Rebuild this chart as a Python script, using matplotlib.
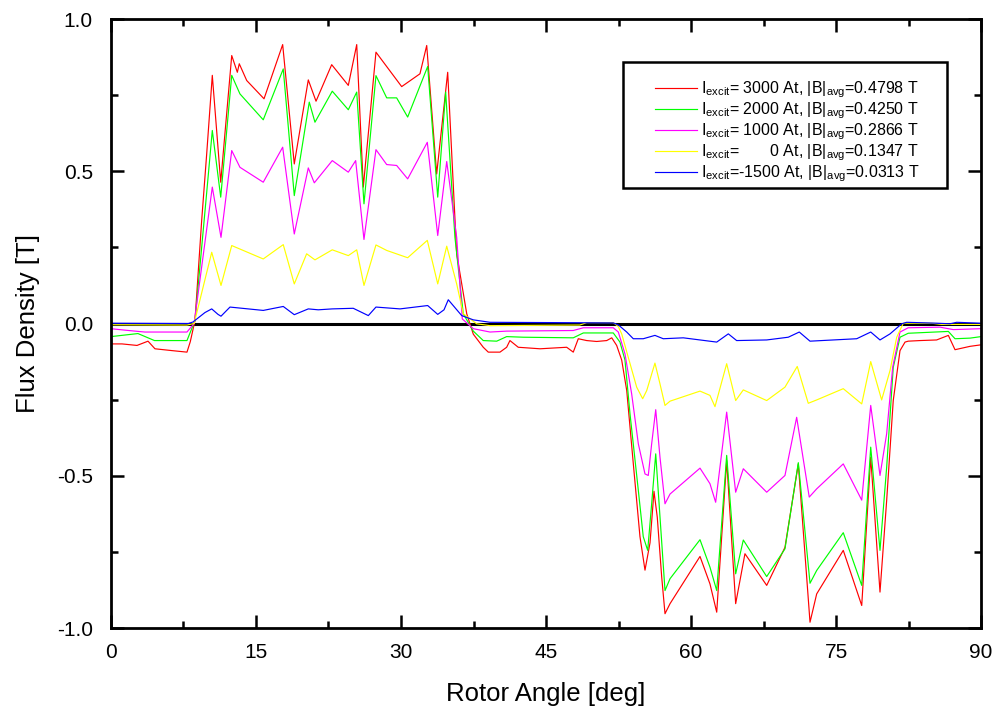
import matplotlib
matplotlib.use("Agg")
import matplotlib.pyplot as plt
from matplotlib.patches import Rectangle
from matplotlib.ticker import MultipleLocator, FormatStrFormatter

plt.rcParams["font.family"] = ["Liberation Sans", "DejaVu Sans"]
plt.rcParams["mathtext.fontset"] = "custom"
plt.rcParams["mathtext.rm"] = "Liberation Sans"
plt.rcParams["mathtext.it"] = "Liberation Sans"
plt.rcParams["axes.unicode_minus"] = False

# Radial flux density in the air gap versus rotor angle, one curve per excitation current
angle_3000 = [0, 1.14, 2.69, 3.83, 4.55, 6.31, 7.86, 8.2, 8.69, 9.38, 9.9, 10.48, 11.35, 12.49, 13.07, 13.27,
              14.04, 15.83, 17.76, 18.96, 20.41, 21.21, 22.83, 24.55, 25.42, 26.10, 27.41, 30.07, 31.96, 32.66,
              33.69, 34.83, 35.76, 36.80, 37.48, 38.51, 39.03, 40.24, 40.93, 41.27, 42.13, 44.38, 47.14, 47.82,
              48.34, 49.21, 50.24, 51.28, 51.80, 52.31, 52.83, 53.35, 54.03, 54.72, 55.24, 55.76, 56.17, 56.51,
              56.97, 57.31, 57.83, 60.93, 61.96, 62.66, 63.69, 64.62, 65.58, 67.83, 69.72, 71.10, 72.31, 73.00,
              75.75, 77.66, 78.59, 79.55, 80.24, 80.92, 81.62, 82.14, 82.47, 83.69, 85.41, 86.62, 87.31, 88.86, 90]
flux_3000 = [-0.067, -0.067, -0.072, -0.058, -0.083, -0.089, -0.094, -0.06, 0.01, 0.338, 0.557, 0.815, 0.464, 0.88,
             0.825, 0.853, 0.798, 0.738, 0.916, 0.524, 0.80, 0.73, 0.85, 0.782, 0.916, 0.448, 0.891, 0.778, 0.82,
             0.913, 0.491, 0.825, 0.229, 0.032, -0.035, -0.078, -0.094, -0.094, -0.078, -0.056, -0.078, -0.083,
             -0.078, -0.094, -0.05, -0.056, -0.059, -0.056, -0.047, -0.072, -0.12, -0.22, -0.46, -0.70, -0.81,
             -0.72, -0.551, -0.636, -0.833, -0.953, -0.92, -0.765, -0.855, -0.948, -0.45, -0.92, -0.756, -0.86,
             -0.735, -0.461, -0.981, -0.888, -0.745, -0.926, -0.439, -0.882, -0.581, -0.253, -0.089, -0.061,
             -0.058, -0.056, -0.054, -0.039, -0.086, -0.075, -0.07]

angle_2000 = [0, 2.79, 4.5, 7.86, 8.69, 9.38, 9.9, 10.48, 11.35, 12.49, 13.34, 15.75, 17.82, 18.96, 20.51, 21.10,
              22.89, 24.55, 25.42, 26.17, 27.41, 28.52, 29.55, 30.69, 32.76, 33.80, 34.62, 35.58, 36.44, 37.48,
              38.51, 39.90, 40.93, 42.65, 47.82, 48.86, 51.96, 52.65, 53.17, 53.69, 54.55, 55.06, 55.52, 55.93,
              56.35, 56.72, 57.31, 57.83, 60.93, 61.96, 62.66, 63.69, 64.62, 65.41, 67.83, 69.72, 71.10, 72.31,
              73.00, 75.75, 77.66, 78.59, 79.55, 80.24, 80.92, 81.62, 82.47, 86.62, 87.31, 88.86, 90]
flux_2000 = [-0.043, -0.033, -0.056, -0.056, 0.01, 0.25, 0.43, 0.634, 0.415, 0.815, 0.754, 0.669, 0.836, 0.42,
             0.727, 0.661, 0.763, 0.702, 0.76, 0.393, 0.814, 0.741, 0.741, 0.678, 0.844, 0.415, 0.76, 0.283, 0.032,
             -0.025, -0.056, -0.058, -0.043, -0.045, -0.047, -0.031, -0.031, -0.061, -0.12, -0.297, -0.548, -0.70,
             -0.745, -0.592, -0.428, -0.602, -0.877, -0.838, -0.71, -0.80, -0.877, -0.433, -0.822, -0.711, -0.831,
             -0.74, -0.457, -0.853, -0.811, -0.687, -0.86, -0.406, -0.745, -0.472, -0.144, -0.045, -0.032, -0.026,
             -0.05, -0.048, -0.043]

angle_1000 = [0, 1.5, 3.5, 7.86, 8.6, 10.48, 11.38, 12.49, 13.34, 15.75, 17.76, 18.96, 20.41, 21.03, 22.89, 24.55,
              25.31, 26.17, 27.41, 28.52, 29.55, 30.69, 32.72, 33.80, 34.73, 35.76, 36.34, 37.48, 39.21, 40.93,
              47.82, 48.86, 51.96, 52.48, 53.17, 53.86, 54.55, 55.24, 55.58, 55.93, 56.35, 56.79, 57.31, 57.83,
              60.93, 61.96, 62.55, 63.69, 64.62, 65.41, 67.83, 69.72, 70.93, 72.23, 73.00, 75.75, 77.66, 78.59,
              79.55, 80.24, 80.86, 81.62, 82.47, 85.76, 87.13, 90]
flux_1000 = [-0.017, -0.022, -0.028, -0.028, 0.0, 0.448, 0.283, 0.568, 0.513, 0.464, 0.579, 0.294, 0.511, 0.462,
             0.535, 0.497, 0.535, 0.276, 0.571, 0.522, 0.519, 0.475, 0.595, 0.289, 0.532, 0.283, 0.015, -0.017,
             -0.028, -0.025, -0.023, -0.014, -0.014, -0.028, -0.1, -0.231, -0.395, -0.494, -0.499, -0.395, -0.283,
             -0.439, -0.592, -0.56, -0.475, -0.526, -0.587, -0.291, -0.554, -0.477, -0.554, -0.499, -0.308, -0.57,
             -0.543, -0.461, -0.58, -0.269, -0.499, -0.362, -0.144, -0.028, -0.014, -0.012, -0.02, -0.017]

angle_0 = [0, 7.86, 8.6, 10.42, 11.38, 12.49, 15.75, 17.82, 18.96, 20.24, 21.10, 22.89, 24.55, 25.42, 26.17, 27.41,
           28.52, 30.69, 32.72, 33.80, 34.73, 35.76, 36.44, 37.83, 39.21, 48.5, 49.21, 51.96, 52.48, 52.83, 53.51,
           54.38, 55.00, 55.42, 56.27, 56.79, 57.31, 57.83, 60.93, 61.96, 62.48, 63.69, 64.62, 65.41, 67.83, 69.72,
           70.99, 72.13, 73.00, 75.75, 77.66, 78.59, 79.72, 80.59, 81.28, 81.96, 84.90, 85.93, 90]
flux_0 = [-0.004, -0.005, 0.0, 0.234, 0.125, 0.256, 0.212, 0.259, 0.130, 0.229, 0.209, 0.242, 0.223, 0.242, 0.125,
          0.258, 0.24, 0.216, 0.273, 0.130, 0.254, 0.13, 0.032, -0.001, -0.007, -0.005, 0.003, 0.003, -0.01, -0.034,
          -0.111, -0.209, -0.247, -0.22, -0.13, -0.198, -0.269, -0.255, -0.222, -0.236, -0.273, -0.132, -0.253,
          -0.218, -0.253, -0.209, -0.141, -0.262, -0.251, -0.214, -0.264, -0.125, -0.251, -0.154, -0.045, 0.001,
          0.001, -0.003, -0.003]

angle_m1500 = [0, 8.0, 8.48, 9.72, 10.42, 11.07, 11.38, 12.31, 15.75, 17.82, 18.96, 20.41, 21.44, 22.89, 25.06,
               26.62, 27.41, 29.90, 32.76, 33.80, 34.45, 34.89, 36.28, 37.48, 39.21, 51.96, 52.5, 53.35, 54.03,
               55.06, 56.27, 57.13, 59.20, 62.66, 63.86, 64.72, 67.83, 70.06, 71.20, 72.31, 77.14, 78.59, 79.55,
               80.59, 81.79, 82.31, 85.41, 86.79, 87.48, 90]
flux_m1500 = [0.001, 0.0, 0.005, 0.036, 0.048, 0.03, 0.024, 0.054, 0.043, 0.056, 0.029, 0.048, 0.045, 0.048, 0.05,
              0.026, 0.054, 0.048, 0.059, 0.03, 0.045, 0.078, 0.026, 0.012, 0.004, 0.002, -0.005, -0.028, -0.05,
              -0.05, -0.039, -0.05, -0.047, -0.061, -0.034, -0.056, -0.054, -0.045, -0.028, -0.058, -0.05, -0.028,
              -0.054, -0.034, -0.001, 0.004, 0.001, -0.001, 0.004, 0.001]

legend_labels = [
    r"I$_{\mathrm{excit}}$= 3000 At, |B|$_{\mathrm{avg}}$=0.4798 T",
    r"I$_{\mathrm{excit}}$= 2000 At, |B|$_{\mathrm{avg}}$=0.4250 T",
    r"I$_{\mathrm{excit}}$= 1000 At, |B|$_{\mathrm{avg}}$=0.2866 T",
    r"I$_{\mathrm{excit}}$=       0 At, |B|$_{\mathrm{avg}}$=0.1347 T",
    r"I$_{\mathrm{excit}}$=-1500 At, |B|$_{\mathrm{avg}}$=0.0313 T",
]
colors = ["#ff0000", "#00ff00", "#ff00ff", "#ffff00", "#0000ff"]

series = [(angle_3000, flux_3000), (angle_2000, flux_2000), (angle_1000, flux_1000),
          (angle_0, flux_0), (angle_m1500, flux_m1500)]

fig = plt.figure(figsize=(9.99, 7.17), dpi=100)
ax = fig.add_axes([0.1111, 0.1241, 0.8709, 0.8494])

ax.axhline(0.0, color="black", lw=2.2, zorder=1)
for (x, y), c, lab in zip(series, colors, legend_labels):
    ax.plot(x, y, color=c, lw=0.85, label=lab, zorder=2)

ax.set_xlim(0, 90)
ax.set_ylim(-1.0, 1.0)
ax.xaxis.set_major_locator(MultipleLocator(15))
ax.xaxis.set_minor_locator(MultipleLocator(7.5))
ax.yaxis.set_major_locator(MultipleLocator(0.5))
ax.yaxis.set_minor_locator(MultipleLocator(0.25))
ax.yaxis.set_major_formatter(FormatStrFormatter("%.1f"))

for s in ax.spines.values():
    s.set_linewidth(2.0)
ax.tick_params(which="both", direction="in", top=True, right=True, width=1.8, labelsize=15)
ax.tick_params(which="major", length=9.5)
ax.tick_params(which="minor", length=5)
ax.tick_params(axis="y", pad=13)
ax.tick_params(axis="x", pad=11)

ax.set_xlabel("Rotor Angle [deg]", fontsize=18.5, labelpad=14)
ax.set_ylabel("Flux Density [T]", fontsize=18.5, labelpad=12)

# Legend box drawn as a plain rectangle, legend entries placed inside it
ax.add_patch(Rectangle((0.5885, 0.7225), 0.961 - 0.5885, 0.9294 - 0.7225, transform=ax.transAxes,
                       facecolor="white", edgecolor="black", lw=1.8, zorder=5))
leg = ax.legend(loc="upper left", bbox_to_anchor=(0.6253, 0.9005), fontsize=11.5, frameon=False,
                handlelength=2.6, handletextpad=0.3, labelspacing=0.02, borderpad=0.0,
                borderaxespad=0.0)
leg.set_zorder(6)

fig.savefig("out.png", dpi=100)
